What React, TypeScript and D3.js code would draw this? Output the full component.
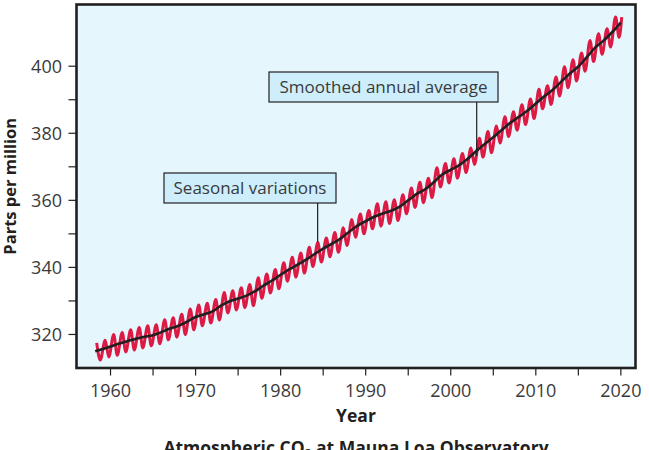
import React from 'react';
import * as d3 from 'd3';

// Smoothed trend (deseasonalized), sampled at the start of each year
const trendDates = [
  1958.2, 1959, 1960, 1961, 1962, 1963, 1964, 1965, 1966, 1967, 1968, 1969,
  1970, 1971, 1972, 1973, 1974, 1975, 1976, 1977, 1978, 1979, 1980, 1981,
  1982, 1983, 1984, 1985, 1986, 1987, 1988, 1989, 1990, 1991, 1992, 1993,
  1994, 1995, 1996, 1997, 1998, 1999, 2000, 2001, 2002, 2003, 2004, 2005,
  2006, 2007, 2008, 2009, 2010, 2011, 2012, 2013, 2014, 2015, 2016, 2017,
  2018, 2019, 2020,
];
const trendValues = [
  315.0, 315.6, 316.4, 317.3, 318.0, 318.7, 319.3, 319.8, 320.7, 321.8, 322.6, 323.8,
  325.2, 326.0, 326.9, 328.6, 329.9, 330.7, 331.6, 332.9, 334.6, 336.1, 337.8, 339.4,
  340.8, 342.3, 344.0, 345.6, 347.0, 348.5, 350.5, 352.4, 353.8, 355.1, 356.1, 356.9,
  358.1, 360.0, 361.9, 363.3, 365.4, 367.7, 369.1, 370.5, 372.4, 374.7, 376.8, 378.8,
  381.0, 383.1, 384.9, 386.7, 388.9, 391.0, 393.0, 395.4, 397.8, 399.9, 402.7, 405.6,
  407.7, 410.2, 413.0,
];

// Monthly record: spring maximum (May) and autumn minimum (October) per year
const seasonYears = [
  1958, 1959, 1960, 1961, 1962, 1963, 1964, 1965, 1966, 1967, 1968, 1969,
  1970, 1971, 1972, 1973, 1974, 1975, 1976, 1977, 1978, 1979, 1980, 1981,
  1982, 1983, 1984, 1985, 1986, 1987, 1988, 1989, 1990, 1991, 1992, 1993,
  1994, 1995, 1996, 1997, 1998, 1999, 2000, 2001, 2002, 2003, 2004, 2005,
  2006, 2007, 2008, 2009, 2010, 2011, 2012, 2013, 2014, 2015, 2016, 2017,
  2018, 2019,
];
const mayPeaks = [
  317.5, 318.3, 320.0, 320.6, 321.4, 322.1, 322.6, 322.9, 324.4, 325.0, 326.0, 327.6,
  328.8, 329.3, 330.4, 332.5, 333.0, 333.9, 334.9, 336.9, 338.0, 339.4, 341.4, 343.0,
  344.3, 346.0, 347.4, 348.8, 350.4, 351.8, 354.3, 355.9, 357.0, 359.0, 359.6, 360.2,
  361.7, 363.7, 365.4, 366.6, 369.7, 371.0, 372.4, 374.0, 375.6, 378.5, 380.5, 382.2,
  384.9, 386.4, 388.5, 390.2, 393.1, 394.2, 396.8, 399.8, 401.9, 403.9, 407.7, 409.7,
  411.2, 414.7,
];
const octTroughs = [
  312.4, 313.3, 313.8, 314.8, 315.4, 316.0, 316.6, 317.2, 318.4, 319.2, 320.0, 321.4,
  322.6, 323.4, 324.3, 326.4, 327.3, 328.0, 328.6, 330.8, 332.4, 333.6, 335.9, 337.1,
  338.3, 340.3, 341.6, 343.2, 344.5, 346.5, 349.0, 350.0, 351.5, 352.3, 353.1, 354.0,
  356.0, 357.9, 359.3, 360.8, 364.0, 365.2, 366.6, 368.3, 370.7, 372.9, 374.2, 377.1,
  379.0, 380.9, 382.6, 384.4, 387.3, 388.6, 391.1, 393.6, 395.6, 398.5, 401.4, 403.6,
  405.7, 408.6,
];
// last monthly reading in the record
const lastReadingDate = 2020.1;
const lastReadingValue = 414.6;

const yTicks = [320, 330, 340, 350, 360, 370, 380, 390, 400];
const yLabels = [320, 340, 360, 380, 400];
const xTicks = [1960, 1965, 1970, 1975, 1980, 1985, 1990, 1995, 2000, 2005, 2010, 2015, 2020];
const xLabels = [1960, 1970, 1980, 1990, 2000, 2010, 2020];

const annotations = [
  { label: 'Seasonal variations', year: 1984.35, value: 347.5, box: { x: 164, y: 173, w: 172, h: 30 } },
  { label: 'Smoothed annual average', year: 2003.05, value: 373.3, box: { x: 269, y: 72, w: 229, h: 30 } },
];

const W = 649;
const H = 450;
const plot = { left: 76.5, right: 635.5, top: 4.5, bottom: 368 };
const FONT = '"Open Sans", "Noto Sans", sans-serif';

type Pt = { date: number; value: number };

export default function App() {
  const x = d3.scaleLinear().domain([1956, 2021.72]).range([plot.left, plot.right]);
  const y = d3.scaleLinear().domain([310, 418.4]).range([plot.bottom, plot.top]);

  const trend: Pt[] = trendDates.map((d, i) => ({ date: d, value: trendValues[i] }));

  // interleave May maxima and October minima into one path
  const seasonal: Pt[] = [];
  seasonYears.forEach((yr, i) => {
    seasonal.push({ date: yr + 4.5 / 12, value: mayPeaks[i] });
    seasonal.push({ date: yr + 9.5 / 12, value: octTroughs[i] });
  });
  seasonal.push({ date: lastReadingDate, value: lastReadingValue });

  const line = d3
    .line<Pt>()
    .x(d => x(d.date))
    .y(d => y(d.value))
    .curve(d3.curveMonotoneX);

  return (
    <svg width={W} height={H} style={{ position: 'absolute', left: 0, top: 0 }} fontFamily={FONT}>
      <rect x={0} y={0} width={W} height={H} fill="#ffffff" />
      <rect
        x={plot.left}
        y={plot.top}
        width={plot.right - plot.left}
        height={plot.bottom - plot.top}
        fill="#e5f6fd"
      />

      {/* seasonal cycle underneath, trend on top */}
      <path d={line(seasonal) ?? ''} fill="none" stroke="#dc1a44" strokeWidth={3} strokeLinejoin="round" />
      <path d={line(trend) ?? ''} fill="none" stroke="#231f20" strokeWidth={2.6} strokeLinejoin="round" />

      {annotations.map(a => (
        <g key={a.label}>
          <line
            x1={x(a.year)}
            x2={x(a.year)}
            y1={a.box.y + a.box.h}
            y2={y(a.value)}
            stroke="#231f20"
            strokeWidth={1.2}
          />
          <rect x={a.box.x} y={a.box.y} width={a.box.w} height={a.box.h} fill="#cdeefa" stroke="#231f20" strokeWidth={1.2} />
          <text
            x={a.box.x + a.box.w / 2}
            y={a.box.y + a.box.h / 2}
            dy="0.36em"
            textAnchor="middle"
            fontSize={17}
            fill="#3a3a3a"
          >
            {a.label}
          </text>
        </g>
      ))}

      {/* frame */}
      <rect
        x={plot.left}
        y={plot.top}
        width={plot.right - plot.left}
        height={plot.bottom - plot.top}
        fill="none"
        stroke="#231f20"
        strokeWidth={2.6}
      />

      {/* y axis */}
      {yTicks.map(t => (
        <line key={t} x1={plot.left - 8} x2={plot.left} y1={y(t)} y2={y(t)} stroke="#231f20" strokeWidth={1.2} />
      ))}
      {yLabels.map(t => (
        <text key={t} x={62} y={y(t)} dy="0.36em" textAnchor="end" fontSize={18} fill="#3a3a3a">
          {t}
        </text>
      ))}

      {/* x axis */}
      {xTicks.map(t => (
        <line key={t} x1={x(t)} x2={x(t)} y1={plot.bottom} y2={plot.bottom + 7.5} stroke="#231f20" strokeWidth={1.2} />
      ))}
      {xLabels.map(t => (
        <text key={t} x={x(t)} y={397} textAnchor="middle" fontSize={18} fill="#3a3a3a">
          {t}
        </text>
      ))}

      <text x={(plot.left + plot.right) / 2} y={422} textAnchor="middle" fontSize={17.5} fontWeight={700} fill="#231f20">
        Year
      </text>
      <text
        transform={`translate(16, ${(plot.top + plot.bottom) / 2}) rotate(-90)`}
        textAnchor="middle"
        fontSize={16.5}
        fontWeight={700}
        fill="#231f20"
      >
        Parts per million
      </text>
      <text x={(plot.left + plot.right) / 2} y={454} textAnchor="middle" fontSize={17.5} fontWeight={700} fill="#231f20">
        Atmospheric CO<tspan fontSize={12} dy={4}>2</tspan>
        <tspan dy={-4}> at Mauna Loa Observatory</tspan>
      </text>
    </svg>
  );
}
